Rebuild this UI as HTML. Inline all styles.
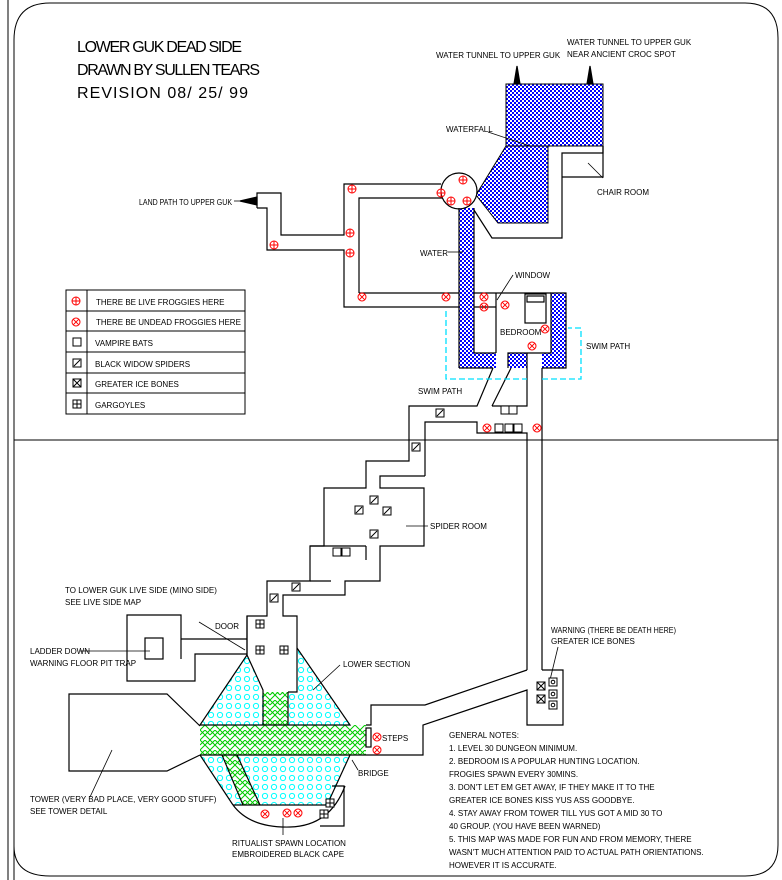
<!DOCTYPE html>
<html><head><meta charset="utf-8"><style>
html,body{margin:0;padding:0;background:#fff;}
svg{display:block;}
text{font-family:"Liberation Sans",sans-serif;fill:#000;}
.t{font-size:8px;}
</style></head><body>
<svg width="782" height="880" viewBox="0 0 782 880" xmlns="http://www.w3.org/2000/svg">
<defs>
<pattern id="chk" width="4" height="4" patternUnits="userSpaceOnUse">
<rect width="4" height="4" fill="#fff"/><rect width="2" height="2" fill="#0000ff"/><rect x="2" y="2" width="2" height="2" fill="#0000ff"/></pattern>
<pattern id="cir" width="9" height="9" patternUnits="userSpaceOnUse">
<rect width="9" height="9" fill="#fff"/><circle cx="4" cy="4" r="2.6" fill="none" stroke="#00ffff" stroke-width="1"/></pattern>
<pattern id="grn" width="10" height="10" patternUnits="userSpaceOnUse">
<rect width="10" height="10" fill="#fff"/><path d="M0 10 L5 5 L10 10 M0 5 L5 0 L10 5 M5 5 L10 0 M0 0 L5 5" stroke="#00cc00" stroke-width="1" fill="none"/></pattern>
<g id="lf"><circle r="4" fill="none" stroke="#f00" stroke-width="1"/><path d="M-4 0H4M0 -4V4" stroke="#f00"/></g>
<g id="uf"><circle r="4" fill="none" stroke="#f00" stroke-width="1"/><path d="M-2.8 -2.8L2.8 2.8M2.8 -2.8L-2.8 2.8" stroke="#f00"/></g>
<g id="vb"><rect x="-4" y="-4" width="8" height="8" fill="#fff" stroke="#000"/></g>
<g id="sp"><rect x="-4" y="-4" width="8" height="8" fill="#fff" stroke="#000"/><path d="M-3 3L3 -3" stroke="#000"/></g>
<g id="ib"><rect x="-4" y="-4" width="8" height="8" fill="#fff" stroke="#000"/><path d="M-4 -4L4 4M4 -4L-4 4" stroke="#000"/></g>
<g id="gg"><rect x="-4" y="-4" width="8" height="8" fill="#fff" stroke="#000"/><path d="M-4 0H4M0 -4V4" stroke="#000"/></g>
<g id="wc"><rect x="-4" y="-4" width="8" height="8" fill="#fff" stroke="#000"/><circle r="1.8" fill="none" stroke="#000"/></g>
</defs>
<g fill="none" stroke="#000" stroke-width="1">
<line x1="8" y1="0" x2="8" y2="880"/>
<path d="M14 880 V40 Q14 3 50 3 H745 Q778 3 778 38 V845 Q778 876 745 876 H50 Q14 876 14 846"/>
<line x1="14" y1="440" x2="778" y2="440"/>
</g>
<rect x="506" y="84" width="97" height="62" fill="url(#chk)" stroke="#000"/>
<polygon points="506,146 476,195 498,223 548,223 548,146" fill="url(#chk)" stroke="#000"/>
<rect x="459" y="208" width="15" height="160" fill="url(#chk)"/>
<rect x="459" y="353" width="37" height="15" fill="url(#chk)"/>
<rect x="508" y="353" width="19" height="15" fill="url(#chk)"/>
<rect x="551" y="293" width="15" height="75" fill="url(#chk)"/>
<rect x="542" y="353" width="24" height="15" fill="url(#chk)"/>
<polygon points="247,655 263,690 263,725 200,725" fill="url(#cir)"/>
<polygon points="297,648 297,692 288,692 288,725 350,725" fill="url(#cir)"/>
<polygon points="263,692 288,692 288,725 366,725 366,755 200,755 200,725 263,725" fill="url(#grn)"/>
<polygon points="200,755 222,755 243,805 233,805" fill="url(#cir)"/>
<polygon points="222,755 237,755 260,805 243,805" fill="url(#grn)"/>
<polygon points="237,755 350,755 327,805 260,805" fill="url(#cir)"/>
<g fill="none" stroke="#000" stroke-width="1.2">
<polygon points="514,84 517,66 520,84" fill="#000"/>
<polygon points="587,84 590,66 593,84" fill="#000"/>
<polygon points="240,201 257,197 257,205" fill="#000"/>
<polyline points="257,208 257,193 281,193 281,235 344,235 344,184 441,184"/>
<polyline points="257,208 267,208 267,250 344,250 344,307 459,307"/>
<polyline points="359,293 359,198 443,198"/>
<line x1="359" y1="293" x2="459" y2="293"/>
<circle cx="459" cy="191" r="18" fill="#fff"/>
<polyline points="474,210 492,238 562,238 562,153 603,153 603,146"/>
<polyline points="562,177 603,177 603,146"/>
<line x1="474" y1="293" x2="551" y2="293"/>
<line x1="474" y1="307" x2="496" y2="307"/>
<line x1="496" y1="293" x2="496" y2="353"/>
<line x1="474" y1="353" x2="496" y2="353"/>
<line x1="474" y1="208" x2="474" y2="353"/>
<line x1="459" y1="208" x2="459" y2="368"/>
<line x1="459" y1="368" x2="493" y2="368"/>
<polyline points="508,368 508,353 551,353 551,293 566,293 566,368 542,368"/>
<line x1="527" y1="368" x2="527" y2="353"/>
<rect x="525" y="294" width="21" height="29"/>
<rect x="527" y="296" width="17" height="6"/>
<polyline points="493,368 477,406 409,406 409,461 366,461 366,488 324,488 324,546 310,546 310,581 267,581 267,616 247,616 247,655"/>
<line x1="511" y1="368" x2="492" y2="406"/>
<polyline points="492,406 527,406 527,368"/>
<polyline points="425,476 425,422 477,422 477,433 527,433 527,670"/>
<line x1="542" y1="368" x2="542" y2="670"/>
<polyline points="425,476 380,476 380,488 424,488 424,546 380,546 380,581 345,581 345,595 283,595 283,616 297,616 297,692 288,692"/>
<line x1="310" y1="546" x2="366" y2="546"/>
<line x1="366" y1="546" x2="366" y2="560"/>
<line x1="310" y1="581" x2="331" y2="581"/>
<polyline points="247,655 263,690 263,725"/>
<polyline points="288,725 288,692"/>
<polyline points="297,648 350,725 200,725 247,655"/>
<line x1="200" y1="755" x2="366" y2="755"/>
<polyline points="200,755 233,805"/>
<line x1="222" y1="755" x2="243" y2="805"/>
<line x1="237" y1="755" x2="260" y2="805"/>
<line x1="233" y1="805" x2="327" y2="805"/>
<polyline points="350,755 327,805"/>
<path d="M233,805 Q250,828 290,827 Q330,826 345,786"/>
<polyline points="320,826 344,826 344,786 332,786"/>
<polyline points="366,725 371,725 371,705 425,705 527,670"/>
<polyline points="366,755 423,755 423,725 527,690 527,725 563,725 563,670 542,670"/>
<rect x="366" y="728" width="5" height="19"/>
<polyline points="181,639 181,615 127,615 127,681 195,681 195,654 247,654"/>
<line x1="181" y1="639" x2="247" y2="639"/>
<line x1="181" y1="639" x2="181" y2="659"/>
<rect x="145" y="638" width="18" height="21"/>
<line x1="247" y1="616" x2="247" y2="655"/>
<polyline points="200,726 167,694 69,694 69,771 167,771 200,755"/>
</g>
<g fill="none" stroke="#00e0ff" stroke-width="1.3" stroke-dasharray="6,3">
<polyline points="446,311 446,379 527,379"/>
<polyline points="542,379 581,379 581,328 568,328"/>
</g>
<g stroke="#000" stroke-width="0.8" fill="none">
<line x1="488" y1="132" x2="530" y2="146"/>
<line x1="588" y1="163" x2="603" y2="178"/>
<line x1="448" y1="252" x2="463" y2="252"/>
<line x1="513" y1="275" x2="497" y2="300"/>
<line x1="406" y1="526" x2="428" y2="526"/>
<line x1="313" y1="690" x2="340" y2="665"/>
<line x1="352" y1="760" x2="358" y2="770"/>
<line x1="80" y1="651" x2="150" y2="651"/>
<line x1="90" y1="797" x2="112" y2="750"/>
<line x1="283" y1="818" x2="283" y2="835"/>
<line x1="558" y1="647" x2="550" y2="680"/>
<line x1="199" y1="622" x2="245" y2="650"/>
<line x1="234" y1="201" x2="240" y2="201"/>
</g>
<use href="#lf" x="352" y="189"/><use href="#lf" x="463" y="180"/><use href="#lf" x="441" y="193"/>
<use href="#lf" x="451" y="201"/><use href="#lf" x="467" y="201"/><use href="#lf" x="350" y="233"/>
<use href="#lf" x="350" y="253"/><use href="#lf" x="274" y="245"/>
<use href="#uf" x="362" y="297"/><use href="#uf" x="446" y="297"/><use href="#uf" x="484" y="297"/>
<use href="#uf" x="484" y="307"/><use href="#uf" x="505" y="305"/><use href="#uf" x="545" y="329"/>
<use href="#uf" x="532" y="346"/><use href="#uf" x="487" y="428"/><use href="#uf" x="537" y="428"/>
<use href="#uf" x="377" y="737"/><use href="#uf" x="377" y="750"/><use href="#uf" x="265" y="814"/>
<use href="#uf" x="287" y="813"/><use href="#uf" x="298" y="813"/>
<use href="#vb" x="505" y="410"/><use href="#vb" x="513" y="410"/>
<use href="#vb" x="499" y="428"/><use href="#vb" x="509" y="428"/><use href="#vb" x="518" y="428"/>
<use href="#vb" x="337" y="552"/><use href="#vb" x="346" y="552"/>
<use href="#sp" x="440" y="413"/><use href="#sp" x="416" y="447"/><use href="#sp" x="374" y="500"/>
<use href="#sp" x="359" y="510"/><use href="#sp" x="387" y="511"/><use href="#sp" x="374" y="534"/>
<use href="#sp" x="296" y="587"/><use href="#sp" x="274" y="598"/>
<use href="#gg" x="260" y="624"/><use href="#gg" x="260" y="650"/><use href="#gg" x="284" y="650"/>
<use href="#gg" x="330" y="803"/><use href="#gg" x="324" y="814"/>
<use href="#ib" x="541" y="686"/><use href="#ib" x="541" y="699"/>
<use href="#wc" x="553" y="682"/><use href="#wc" x="553" y="694"/><use href="#wc" x="553" y="705"/>
<g fill="none" stroke="#000" stroke-width="1">
<rect x="66" y="290" width="179" height="124"/>
<line x1="87" y1="290" x2="87" y2="414"/>
<line x1="66" y1="311" x2="245" y2="311"/><line x1="66" y1="331" x2="245" y2="331"/>
<line x1="66" y1="352" x2="245" y2="352"/><line x1="66" y1="373" x2="245" y2="373"/>
<line x1="66" y1="393" x2="245" y2="393"/>
</g>
<use href="#lf" x="76" y="301"/><use href="#uf" x="76" y="322"/>
<use href="#vb" x="77" y="342"/><use href="#sp" x="77" y="363"/><use href="#ib" x="77" y="383"/><use href="#gg" x="77" y="404"/>
<g class="t">
<text x="96" y="305">THERE BE LIVE FROGGIES HERE</text>
<text x="96" y="325">THERE BE UNDEAD FROGGIES HERE</text>
<text x="95" y="346">VAMPIRE BATS</text>
<text x="95" y="367">BLACK WIDOW SPIDERS</text>
<text x="95" y="387">GREATER ICE BONES</text>
<text x="95" y="408">GARGOYLES</text>
</g>
<g style="font-size:16px">
<text x="77" y="52" textLength="165">LOWER GUK DEAD SIDE</text>
<text x="77" y="75" textLength="183">DRAWN BY SULLEN TEARS</text>
<text x="77" y="98" textLength="171">REVISION 08/ 25/ 99</text>
</g>
<g class="t">
<text x="436" y="58">WATER TUNNEL TO UPPER GUK</text>
<text x="567" y="45">WATER TUNNEL TO UPPER GUK</text>
<text x="567" y="57">NEAR ANCIENT CROC SPOT</text>
<text x="446" y="132">WATERFALL</text>
<text x="597" y="195">CHAIR ROOM</text>
<text x="139" y="205" textLength="93" lengthAdjust="spacingAndGlyphs">LAND PATH TO UPPER GUK</text>
<text x="420" y="256">WATER</text>
<text x="515" y="278">WINDOW</text>
<text x="500" y="335">BEDROOM</text>
<text x="586" y="349">SWIM PATH</text>
<text x="418" y="394">SWIM PATH</text>
<text x="430" y="529">SPIDER ROOM</text>
<text x="65" y="593">TO LOWER GUK LIVE SIDE (MINO SIDE)</text>
<text x="65" y="605">SEE LIVE SIDE MAP</text>
<text x="215" y="629">DOOR</text>
<text x="30" y="654">LADDER DOWN</text>
<text x="30" y="666">WARNING FLOOR PIT TRAP</text>
<text x="343" y="667">LOWER SECTION</text>
<text x="382" y="741">STEPS</text>
<text x="358" y="776">BRIDGE</text>
<text x="30" y="802">TOWER (VERY BAD PLACE, VERY GOOD STUFF)</text>
<text x="30" y="814">SEE TOWER DETAIL</text>
<text x="232" y="846">RITUALIST SPAWN LOCATION</text>
<text x="232" y="857">EMBROIDERED BLACK CAPE</text>
<text x="551" y="633" textLength="125" lengthAdjust="spacingAndGlyphs">WARNING (THERE BE DEATH HERE)</text>
<text x="551" y="644">GREATER ICE BONES</text>
<text x="449" y="738">GENERAL NOTES:</text>
<text x="449" y="751">1. LEVEL 30 DUNGEON MINIMUM.</text>
<text x="449" y="764">2. BEDROOM IS A POPULAR HUNTING LOCATION.</text>
<text x="449" y="777">FROGIES SPAWN EVERY 30MINS.</text>
<text x="449" y="790">3. DON'T LET EM GET AWAY, IF THEY MAKE IT TO THE</text>
<text x="449" y="803">GREATER ICE BONES KISS YUS ASS GOODBYE.</text>
<text x="449" y="816">4. STAY AWAY FROM TOWER TILL YUS GOT A MID 30 TO</text>
<text x="449" y="829">40 GROUP. (YOU HAVE BEEN WARNED)</text>
<text x="449" y="842">5. THIS MAP WAS MADE FOR FUN AND FROM MEMORY, THERE</text>
<text x="449" y="855">WASN'T MUCH ATTENTION PAID TO ACTUAL PATH ORIENTATIONS.</text>
<text x="449" y="868">HOWEVER IT IS ACCURATE.</text>
</g>
</svg>
</body></html>
